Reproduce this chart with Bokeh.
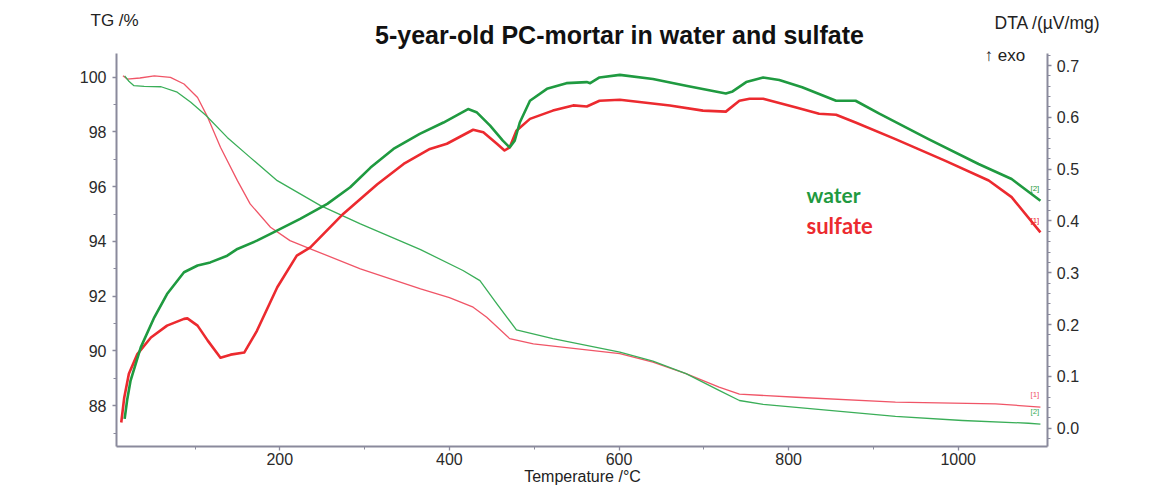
from bokeh.plotting import figure
from bokeh.models import Range1d, LinearAxis, FixedTicker, Label, NumeralTickFormatter, ColumnDataSource
from bokeh.core.properties import value
from bokeh.embed import file_html
from bokeh.resources import INLINE

# ---- data ----
tg_water_t = [17, 22, 28, 40, 60, 79, 95, 113, 138, 165, 197, 248, 295, 366, 416, 436, 456, 479,
              522, 601, 640, 679, 718, 742, 770, 848, 926, 1005, 1083, 1097]
tg_water = [100.05, 99.85, 99.69, 99.66, 99.65, 99.45, 99.08, 98.6, 97.8, 97.07, 96.22, 95.31, 94.64,
            93.70, 92.94, 92.57, 91.72, 90.77, 90.45, 89.96, 89.63, 89.17, 88.56, 88.19, 88.05,
            87.83, 87.61, 87.46, 87.36, 87.33]

tg_sulf_t = [15, 20, 35, 52, 71, 87, 103, 115, 130, 150, 165, 189, 212, 236, 295, 366, 400, 428, 444,
             471, 499, 601, 640, 679, 718, 742, 809, 926, 1044, 1097]
tg_sulf = [100.05, 99.93, 99.97, 100.05, 99.99, 99.75, 99.26, 98.53, 97.44, 96.22, 95.37, 94.52, 94.03,
           93.73, 93.0, 92.27, 91.95, 91.6, 91.23, 90.45, 90.26, 89.9, 89.59, 89.17, 88.68, 88.42,
           88.31, 88.13, 88.07, 87.95]

dta_water_t = [17, 20, 24, 36, 52, 67, 87, 103, 118, 138, 150, 173, 189, 224, 256, 283, 307, 334, 365,
               393, 422, 432, 448, 463, 471, 477, 483, 495, 515, 538, 562, 566, 577, 601, 640, 679,
               726, 734, 750, 770, 789, 816, 856, 879, 907, 965, 1024, 1063, 1097]
dta_water = [0.018, 0.055, 0.092, 0.156, 0.214, 0.259, 0.301, 0.314, 0.320, 0.333, 0.346, 0.362, 0.375,
             0.404, 0.433, 0.465, 0.503, 0.539, 0.568, 0.590, 0.616, 0.610, 0.584, 0.555, 0.542, 0.555,
             0.590, 0.632, 0.655, 0.666, 0.668, 0.666, 0.677, 0.682, 0.674, 0.661, 0.646, 0.650, 0.668,
             0.677, 0.672, 0.658, 0.632, 0.632, 0.607, 0.558, 0.510, 0.481, 0.439]

dta_sulf_t = [13, 16.5, 22, 32, 48, 67, 87, 91, 103, 115, 130, 142, 158, 173, 197, 220, 236, 275, 315,
              346, 377, 397, 428, 440, 456, 465, 471, 479, 495, 522, 546, 562, 577, 601, 660, 699, 726,
              742, 754, 770, 809, 836, 856, 879, 926, 985, 1036, 1063, 1097]
dta_sulf = [0.011, 0.059, 0.105, 0.143, 0.175, 0.198, 0.211, 0.212, 0.198, 0.169, 0.136, 0.142, 0.146,
            0.188, 0.272, 0.333, 0.349, 0.414, 0.471, 0.510, 0.539, 0.549, 0.576, 0.571, 0.549, 0.536,
            0.542, 0.574, 0.597, 0.613, 0.623, 0.621, 0.632, 0.634, 0.623, 0.613, 0.611, 0.632, 0.636,
            0.636, 0.619, 0.607, 0.605, 0.590, 0.558, 0.516, 0.478, 0.446, 0.378]

x_major = [200, 400, 600, 800, 1000]
x_minor = [100, 300, 500, 700, 900]
tg_major = [88, 90, 92, 94, 96, 98, 100]
tg_minor = [87, 89, 91, 93, 95, 97, 99]
dta_major = [0.0, 0.1, 0.2, 0.3, 0.4, 0.5, 0.6, 0.7]
dta_minor = [round(-0.02 + 0.02 * i, 2) for i in range(38)]

# axis extents (data units)
T_MIN, T_MAX = 7.4, 1105.7
TG_MIN, TG_MAX = 86.52, 100.87
DTA_MIN, DTA_MAX = -0.0347, 0.7232

GREEN = "#1f9a40"
RED = "#ec2a2f"
GREEN_TG = "#3aae58"
RED_TG = "#f05567"
AXIS = "#8a8a9c"
FONT = "Liberation Sans"

W, H = 1164, 489
p = figure(width=W, height=H, output_backend="svg", toolbar_location=None,
           x_range=Range1d(-129.4, 1243.3), y_range=Range1d(84.94, 102.80),
           min_border=0, x_axis_location=None, y_axis_location=None)
p.outline_line_color = None
p.grid.visible = False
p.background_fill_color = "white"
p.border_fill_color = "white"
p.extra_y_ranges = {"dta": Range1d(-0.1183, 0.8255)}


def style(ax, standoff):
    ax.axis_line_color = AXIS
    ax.axis_line_width = 2
    ax.major_tick_line_color = AXIS
    ax.minor_tick_line_color = AXIS
    ax.major_tick_line_width = 1.3
    ax.major_tick_out = 4
    ax.major_tick_in = 0
    ax.minor_tick_out = 3
    ax.minor_tick_in = 0
    ax.major_label_text_font = FONT
    ax.major_label_text_font_size = "16px"
    ax.major_label_text_color = "#2a2a2a"
    ax.major_label_standoff = standoff


bottom = LinearAxis(ticker=FixedTicker(ticks=x_major, minor_ticks=x_minor),
                    fixed_location=TG_MIN, bounds=(T_MIN, T_MAX))
style(bottom, 3)
p.add_layout(bottom, "below")

left = LinearAxis(ticker=FixedTicker(ticks=tg_major, minor_ticks=tg_minor),
                  formatter=NumeralTickFormatter(format="0"),
                  fixed_location=T_MIN, bounds=(TG_MIN, TG_MAX))
style(left, 6)
p.add_layout(left, "left")

right = LinearAxis(y_range_name="dta", ticker=FixedTicker(ticks=dta_major, minor_ticks=dta_minor),
                   formatter=NumeralTickFormatter(format="0.0"),
                   fixed_location=T_MAX, bounds=(DTA_MIN, DTA_MAX))
style(right, 5)
p.add_layout(right, "right")

# TG curves (thin)
p.line(tg_sulf_t, tg_sulf, line_color=RED_TG, line_width=1.3, line_join="round")
p.line(tg_water_t, tg_water, line_color=GREEN_TG, line_width=1.3, line_join="round")
# DTA curves (thick)
p.line(dta_sulf_t, dta_sulf, line_color=RED, line_width=2.6, y_range_name="dta", line_join="round")
p.line(dta_water_t, dta_water, line_color=GREEN, line_width=2.6, y_range_name="dta", line_join="round")

# end markers
end_tg = ColumnDataSource(dict(x=[tg_sulf_t[-1], tg_water_t[-1]], y=[tg_sulf[-1], tg_water[-1]],
                               t=["[1]", "[2]"], c=[RED_TG, GREEN_TG]))
p.text(x="x", y="y", text="t", text_color="c", source=end_tg, x_offset=-10, y_offset=-13,
       text_font=value(FONT), text_font_size="8px", text_baseline="middle", text_align="left")
end_dta = ColumnDataSource(dict(x=[dta_sulf_t[-1], dta_water_t[-1]], y=[dta_sulf[-1], dta_water[-1]],
                                t=["[1]", "[2]"], c=[RED, GREEN]))
p.text(x="x", y="y", text="t", text_color="c", source=end_dta, y_range_name="dta", x_offset=-10,
       y_offset=-12, text_font=value(FONT), text_font_size="8px", text_baseline="middle", text_align="left")


# texts (screen units: x from left, y given from the top of the canvas)
def lab(text, x, y, size, color="#222222", style="normal", align="left", font=FONT, baseline="middle"):
    p.add_layout(Label(x=x, y=H - y, x_units="screen", y_units="screen", text=text,
                       text_font=font, text_font_size=size, text_color=color,
                       text_font_style=style, text_align=align, text_baseline=baseline))


lab("5-year-old PC-mortar in water and sulfate", 619, 34, "25px", "#111111", "bold", "center")
lab("TG /%", 90, 20, "17px")
lab("DTA /(\u00b5V/mg)", 994, 22, "17.5px")
lab("\u2191 exo", 984, 55, "17px")
lab("Temperature /\u00b0C", 582, 476, "16px", align="center")
lab("water", 806, 194, "21px", GREEN, "bold", font="Lato")
lab("sulfate", 806, 225, "22px", RED, "bold", font="Lato")

open("out.html", "w").write(file_html(p, INLINE))
